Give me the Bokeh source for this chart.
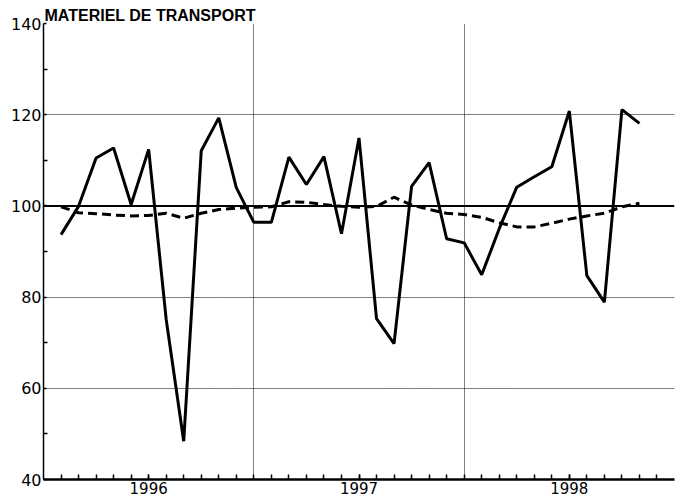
import pandas as pd
from bokeh.plotting import figure
from bokeh.models import Range1d, FixedTicker, Span
from bokeh.embed import file_html
from bokeh.resources import INLINE

# ---- data ----
title = "MATERIEL DE TRANSPORT"
years = ["1996", "1997", "1998"]
dates = pd.date_range("1996-02-01", periods=34, freq="MS")
production = [93.7, 99.9, 110.5, 112.7, 100.3, 112.4, 75.1, 48.4, 112.1, 119.3,
              104.0, 96.4, 96.4, 110.7, 104.7, 110.8, 93.9, 114.9, 75.3, 69.8,
              104.3, 109.5, 92.8, 91.9, 84.9, 95.0, 104.1, 106.4, 108.6, 120.8,
              84.7, 78.9, 121.1, 118.1]
trend = [99.8, 98.5, 98.3, 98.0, 97.8, 97.9, 98.4, 97.3, 98.4, 99.2,
         99.5, 99.7, 99.8, 100.9, 100.8, 100.3, 99.9, 99.7, 99.9, 101.9,
         100.2, 99.2, 98.4, 98.1, 97.5, 96.3, 95.4, 95.4, 96.2, 97.1,
         97.8, 98.4, 99.8, 100.6]
y_ticks = [40, 60, 80, 100, 120, 140]
y_minor = [50, 70, 90, 110, 130]
reference_level = 100

# month index since Jan 1996
first_year = int(years[0])
x = [(d.year - first_year) * 12 + (d.month - 1) for d in dates]
n_months = 12 * len(years)
year_centers = [12 * i + 6 for i in range(len(years))]
year_bounds = [12 * (i + 1) for i in range(len(years))]

p = figure(width=681, height=502, title=title,
           x_range=Range1d(0, n_months), y_range=Range1d(y_ticks[0], y_ticks[-1]),
           output_backend="svg", toolbar_location=None,
           min_border_left=43, min_border_right=7, min_border_top=23, min_border_bottom=23)
p.outline_line_color = None
p.background_fill_color = "white"
p.border_fill_color = "white"

# title
p.title.align = "left"
p.title.offset = 1
p.title.standoff = 0
p.title.text_font = "Liberation Sans"
p.title.text_font_style = "bold"
p.title.text_font_size = "16px"
p.title.text_color = "black"

# grids
p.xgrid.ticker = FixedTicker(ticks=year_bounds)
p.ygrid.ticker = FixedTicker(ticks=[t for t in y_ticks if t not in (y_ticks[0], reference_level)])
for g in (p.xgrid, p.ygrid):
    g.grid_line_color = "black"
    g.grid_line_dash = "1 1"
    g.grid_line_width = 1
    g.grid_line_alpha = 1.0

# x axis
xa = p.xaxis[0]
xa.ticker = FixedTicker(ticks=year_centers, minor_ticks=list(range(1, n_months)))
xa.major_label_overrides = {c: y for c, y in zip(year_centers, years)}
xa.major_tick_in = 5
xa.major_tick_out = 0
xa.minor_tick_in = 5
xa.minor_tick_out = 0
xa.axis_line_width = 2.5
xa.major_tick_line_width = 1.5
xa.minor_tick_line_width = 1.5
xa.major_label_standoff = 2
xa.major_label_text_font = "DejaVu Sans"
xa.major_label_text_font_size = "15px"
xa.major_label_text_color = "black"

# y axis
ya = p.yaxis[0]
ya.ticker = FixedTicker(ticks=y_ticks, minor_ticks=y_minor)
ya.major_tick_in = 3
ya.major_tick_out = 0
ya.minor_tick_in = 4
ya.minor_tick_out = 0
ya.axis_line_width = 1.5
ya.major_tick_line_width = 1.5
ya.minor_tick_line_width = 1.5
ya.major_label_standoff = 2
ya.major_label_text_font = "DejaVu Sans"
ya.major_label_text_font_size = "16px"
ya.major_label_text_color = "black"

# reference line at 100
p.add_layout(Span(location=reference_level, dimension="width",
                  line_color="black", line_width=2))

# series
p.line(x, trend, line_color="black", line_width=3, line_dash="9 5")
p.line(x, production, line_color="black", line_width=3)

open("out.html", "w").write(file_html(p, INLINE))
